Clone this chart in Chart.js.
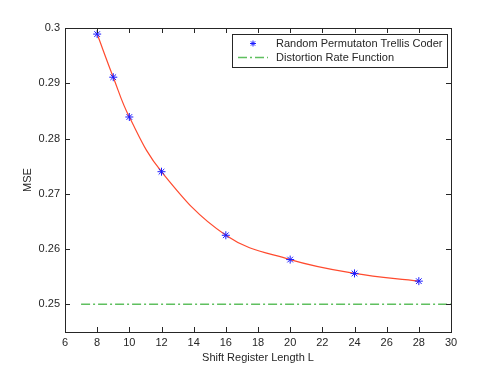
<!DOCTYPE html>
<html>
<head>
<meta charset="utf-8">
<script src="https://cdn.jsdelivr.net/npm/chart.js@4/dist/chart.umd.min.js"></script>
<style>
  body { margin: 0; background: #fff; }
</style>
</head>
<body>
<canvas id="mseChart" width="498" height="374"></canvas>
<script>
// Daten
const shiftLengths = [8, 9, 10, 12, 16, 20, 24, 28];
const mseValues = [0.2989, 0.2911, 0.2839, 0.2740, 0.2625, 0.2581, 0.2556, 0.2542];
const distortionX = [7, 30];
const distortionValues = [0.25, 0.25];
const xTicks = [6, 8, 10, 12, 14, 16, 18, 20, 22, 24, 26, 28, 30];
const yTicks = [0.25, 0.26, 0.27, 0.28, 0.29, 0.3];
const seriesLabels = ['Random Permutaton Trellis Coder', 'Distortion Rate Function'];

const FONT = '"Liberation Sans", Arial, Helvetica, sans-serif';
const TEXT = '#262626';
const BLUE = '#1a1aff';
const GREEN = '#5fbf5f';
const greenDash = [9, 3, 2, 3];

// Rahmen, nach innen zeigende Ticks und Legende im MATLAB-Stil
const boxPlugin = {
    id: 'matlabBox',
    afterDraw(chart) {
        const { ctx, chartArea: a, scales } = chart;
        ctx.save();
        ctx.strokeStyle = TEXT;
        ctx.lineWidth = 1;
        ctx.strokeRect(Math.round(a.left) + 0.5, Math.round(a.top) + 0.5,
            Math.round(a.right - a.left), Math.round(a.bottom - a.top));

        const t = 5;
        ctx.beginPath();
        xTicks.forEach(v => {
            const x = Math.round(scales.x.getPixelForValue(v)) + 0.5;
            ctx.moveTo(x, a.bottom); ctx.lineTo(x, a.bottom - t);
            ctx.moveTo(x, a.top); ctx.lineTo(x, a.top + t);
        });
        yTicks.forEach(v => {
            const y = Math.round(scales.y.getPixelForValue(v)) + 0.5;
            ctx.moveTo(a.left, y); ctx.lineTo(a.left + t, y);
            ctx.moveTo(a.right, y); ctx.lineTo(a.right - t, y);
        });
        ctx.stroke();

        // Legende
        const lx = 232, ly = 34, lw = 215, lh = 33;
        ctx.fillStyle = '#fff';
        ctx.fillRect(lx, ly, lw, lh);
        ctx.strokeStyle = TEXT;
        ctx.strokeRect(lx + 0.5, ly + 0.5, lw, lh);

        ctx.fillStyle = TEXT;
        ctx.font = '11px ' + FONT;
        ctx.textBaseline = 'middle';
        ctx.textAlign = 'left';
        ctx.fillText(seriesLabels[0], lx + 44, ly + 9.5);
        ctx.fillText(seriesLabels[1], lx + 44, ly + 23.5);

        ctx.strokeStyle = BLUE;
        ctx.fillStyle = BLUE;
        Chart.helpers.drawPoint(ctx, {
            pointStyle: 'star', radius: 3, borderWidth: 1
        }, lx + 21, ly + 9.5);

        ctx.strokeStyle = GREEN;
        ctx.lineWidth = 1.5;
        ctx.setLineDash(greenDash);
        ctx.beginPath();
        ctx.moveTo(lx + 6, ly + 23.5);
        ctx.lineTo(lx + 36, ly + 23.5);
        ctx.stroke();
        ctx.restore();
    }
};

const ctx = document.getElementById('mseChart').getContext('2d');
new Chart(ctx, {
    type: 'line',
    data: {
        datasets: [
            {
                label: seriesLabels[0],
                data: shiftLengths.map((x, i) => ({ x: x, y: mseValues[i] })),
                showLine: false,
                pointStyle: 'star',
                pointRadius: 4,
                pointBorderWidth: 1,
                pointBorderColor: BLUE,
                pointBackgroundColor: BLUE,
                order: 0
            },
            {
                label: 'fit',
                data: shiftLengths.map((x, i) => ({ x: x, y: mseValues[i] })),
                borderColor: '#ff4a2e',
                borderWidth: 1.2,
                pointRadius: 0,
                tension: 0.4,
                fill: false,
                order: 1
            },
            {
                label: seriesLabels[1],
                data: distortionX.map((x, i) => ({ x: x, y: distortionValues[i] })),
                borderColor: GREEN,
                borderWidth: 1.5,
                borderDash: greenDash,
                pointRadius: 0,
                fill: false,
                order: 2
            }
        ]
    },
    options: {
        responsive: false,
        animation: false,
        layout: { padding: { left: 0, top: 28, right: 47, bottom: 0 } },
        plugins: {
            legend: { display: false },
            tooltip: { enabled: false }
        },
        scales: {
            x: {
                type: 'linear',
                min: 6,
                max: 30,
                afterBuildTicks: s => { s.ticks = xTicks.map(v => ({ value: v })); },
                afterFit: s => { s.height = 42; },
                grid: { display: false, drawTicks: false },
                border: { display: false },
                ticks: {
                    padding: 4,
                    color: TEXT,
                    font: { family: FONT, size: 11 },
                    maxRotation: 0,
                    callback: v => String(v)
                },
                title: {
                    display: true,
                    text: 'Shift Register Length L',
                    color: TEXT,
                    font: { family: FONT, size: 11 },
                    padding: { top: 0, bottom: 9 }
                }
            },
            y: {
                type: 'linear',
                min: 0.245,
                max: 0.3,
                afterBuildTicks: s => { s.ticks = yTicks.map(v => ({ value: v })); },
                afterFit: s => { s.width = 65; },
                grid: { display: false, drawTicks: false },
                border: { display: false },
                ticks: {
                    padding: 5,
                    color: TEXT,
                    font: { family: FONT, size: 11 },
                    callback: v => String(v)
                },
                title: {
                    display: true,
                    text: 'MSE',
                    color: TEXT,
                    font: { family: FONT, size: 11 },
                    padding: { top: 21, bottom: 0 }
                }
            }
        }
    },
    plugins: [boxPlugin]
});
</script>
</body>
</html>
